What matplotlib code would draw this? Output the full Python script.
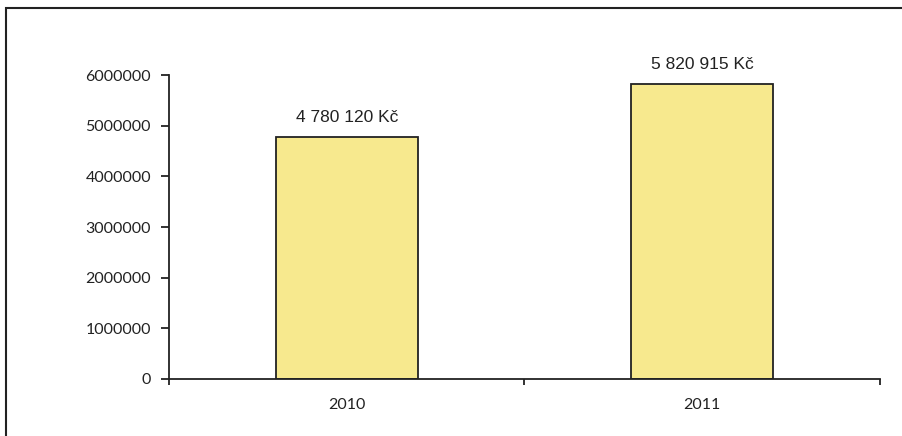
import matplotlib.pyplot as plt
from matplotlib.patches import Rectangle
from matplotlib.ticker import FixedLocator

years = ['2010', '2011']
amounts = [4780120, 5820915]
labels = ['4 780 120 Kč', '5 820 915 Kč']

fig = plt.figure(figsize=(9.03, 4.36), dpi=100)
ax = fig.add_axes([169 / 903, 1 - 379 / 436, 711 / 903, 304 / 436])

# outer chart frame (right/bottom edges fall outside the image)
fig.patches.append(Rectangle((6 / 903, -0.05), 1.2, 1 - 8 / 436 + 0.05,
                             transform=fig.transFigure, fill=False,
                             edgecolor='#222222', linewidth=1.5))

x = range(len(years))
ax.bar(x, amounts, width=0.4, color='#F7E98E', edgecolor='#222222', linewidth=1.3, zorder=2)
for xi, v, lab in zip(x, amounts, labels):
    ax.text(xi, v + 230000, lab, ha='center', va='bottom', fontsize=12.5,
            fontfamily='Liberation Sans', color='#222222')

ax.set_xlim(-0.5, 1.5)
ax.set_ylim(0, 6000000)
ax.set_yticks(range(0, 6000001, 1000000))
ax.set_yticklabels([str(v) for v in range(0, 6000001, 1000000)])
ax.set_xticks(list(x))
ax.set_xticklabels(years)
ax.xaxis.set_minor_locator(FixedLocator([-0.5, 0.5, 1.5]))
ax.tick_params(axis='x', which='major', length=0, pad=14)
ax.tick_params(axis='x', which='minor', length=4, width=1.3, color='#222222')
ax.tick_params(axis='y', length=6, width=1.3, color='#222222', pad=7)
for lab in ax.get_xticklabels() + ax.get_yticklabels():
    lab.set_family('Lato')
    lab.set_fontsize(11.5)
    lab.set_color('#222222')

for s in ['top', 'right']:
    ax.spines[s].set_visible(False)
for s in ['left', 'bottom']:
    ax.spines[s].set_linewidth(1.3)
    ax.spines[s].set_color('#222222')

fig.savefig('out.png', dpi=100)
